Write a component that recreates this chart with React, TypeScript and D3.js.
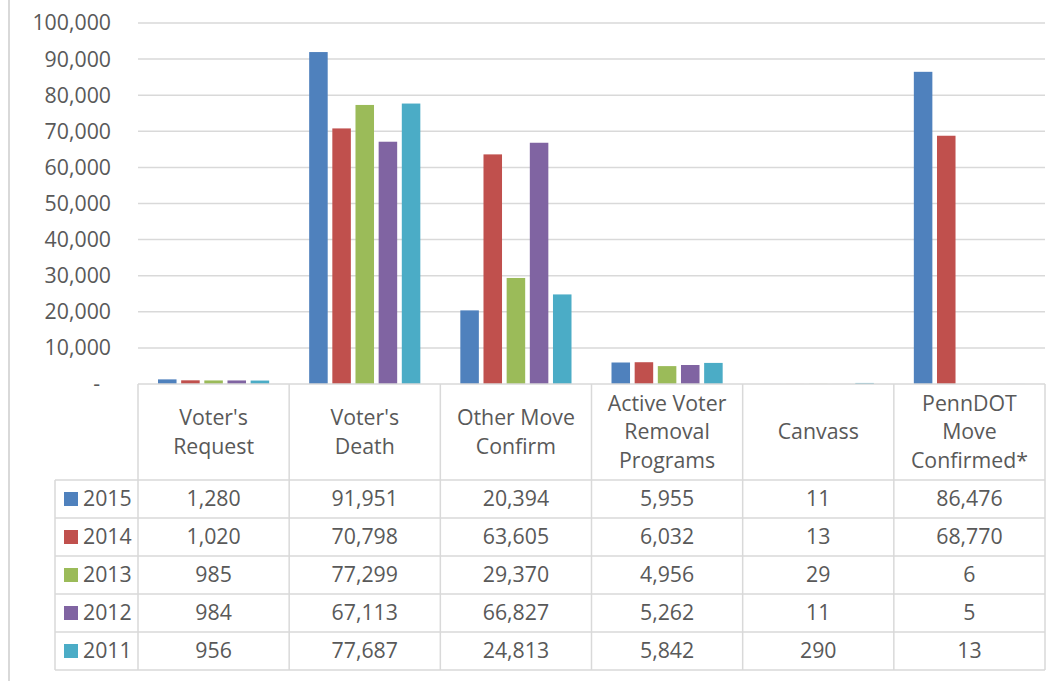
import React from "react";
import * as d3 from "d3";

const categories = [
  ["Voter's", "Request"],
  ["Voter's", "Death"],
  ["Other Move", "Confirm"],
  ["Active Voter", "Removal", "Programs"],
  ["Canvass"],
  ["PennDOT", "Move", "Confirmed*"],
];
const seriesNames = ["2015", "2014", "2013", "2012", "2011"];
const seriesColors = ["#4f81bd", "#c0504d", "#9bbb59", "#8064a2", "#4bacc6"];
const v2015 = [1280, 91951, 20394, 5955, 11, 86476];
const v2014 = [1020, 70798, 63605, 6032, 13, 68770];
const v2013 = [985, 77299, 29370, 4956, 29, 6];
const v2012 = [984, 67113, 66827, 5262, 11, 5];
const v2011 = [956, 77687, 24813, 5842, 290, 13];
const seriesValues = [v2015, v2014, v2013, v2012, v2011];
const yTicks = [0, 10000, 20000, 30000, 40000, 50000, 60000, 70000, 80000, 90000, 100000];

const W = 1064;
const H = 681;
const plotLeft = 138;
const plotRight = 1045;
const plotTop = 23;
const plotBottom = 384;
const headerBottom = 480;
const rowH = 38;
const legendLeft = 55;
const gridColor = "#d9d9d9";
const textColor = "#595959";
const font = "'Open Sans', sans-serif";
const fs = 21.3;

export default function App() {
  const x = d3
    .scaleBand<number>()
    .domain(d3.range(categories.length))
    .range([plotLeft, plotRight])
    .paddingInner(0)
    .paddingOuter(0);
  const bw = x.bandwidth();
  const xs = d3
    .scaleBand<number>()
    .domain(d3.range(seriesNames.length))
    .range([20, bw - 20])
    .paddingInner(0.2)
    .paddingOuter(0);
  const y = d3.scaleLinear().domain([0, 100000]).range([plotBottom, plotTop]);
  const fmt = d3.format(",");
  const tableBottom = headerBottom + rowH * seriesNames.length;

  return (
    <svg width={W} height={H} style={{ position: "absolute", left: 0, top: 0, background: "#fff" }}>
      <rect x={0} y={0} width={W} height={H} fill="#fff" />
      <line x1={9} x2={9} y1={0} y2={H} stroke={gridColor} strokeWidth={2} />
      {yTicks.map((t) => (
        <g key={t}>
          {t > 0 && (
            <line x1={plotLeft} x2={plotRight} y1={y(t)} y2={y(t)} stroke={gridColor} strokeWidth={1.5} />
          )}
          <text
            x={t === 0 ? 100 : 111}
            y={y(t)}
            dy="0.35em"
            textAnchor="end"
            fontFamily={font}
            fontSize={fs}
            fill={textColor}
          >
            {t === 0 ? "-" : fmt(t)}
          </text>
        </g>
      ))}
      {seriesValues.map((vals, si) =>
        vals.map((v, ci) => (
          <rect
            key={`${si}-${ci}`}
            x={(x(ci) as number) + (xs(si) as number)}
            y={y(v)}
            width={xs.bandwidth()}
            height={plotBottom - y(v)}
            fill={seriesColors[si]}
          />
        ))
      )}
      <g stroke={gridColor} strokeWidth={1.5} fill="none">
        <line x1={plotLeft} x2={plotRight} y1={plotBottom} y2={plotBottom} />
        {d3.range(categories.length + 1).map((i) => {
          const xx = i < categories.length ? (x(i) as number) : plotRight;
          return <line key={i} x1={xx} x2={xx} y1={plotBottom} y2={tableBottom} />;
        })}
        {d3.range(seriesNames.length + 1).map((r) => (
          <line
            key={r}
            x1={legendLeft}
            x2={plotRight}
            y1={headerBottom + r * rowH}
            y2={headerBottom + r * rowH}
          />
        ))}
        <line x1={legendLeft} x2={legendLeft} y1={headerBottom} y2={tableBottom} />
      </g>
      {categories.map((lines, ci) => {
        const cx = (x(ci) as number) + bw / 2;
        const cy = (plotBottom + headerBottom) / 2;
        const lh = 28.5;
        return (
          <text key={ci} textAnchor="middle" fontFamily={font} fontSize={fs} fill={textColor}>
            {lines.map((l, li) => (
              <tspan key={li} x={cx} y={cy + (li - (lines.length - 1) / 2) * lh} dy="0.35em">
                {l}
              </tspan>
            ))}
          </text>
        );
      })}
      {seriesNames.map((name, si) => {
        const cy = headerBottom + si * rowH + rowH / 2;
        return (
          <g key={name}>
            <rect x={64} y={cy - 7} width={14} height={14} fill={seriesColors[si]} />
            <text x={83} y={cy} dy="0.35em" fontFamily={font} fontSize={fs} fill={textColor}>
              {name}
            </text>
            {seriesValues[si].map((v, ci) => (
              <text
                key={ci}
                x={(x(ci) as number) + bw / 2}
                y={cy}
                dy="0.35em"
                textAnchor="middle"
                fontFamily={font}
                fontSize={fs}
                fill={textColor}
              >
                {fmt(v)}
              </text>
            ))}
          </g>
        );
      })}
    </svg>
  );
}
